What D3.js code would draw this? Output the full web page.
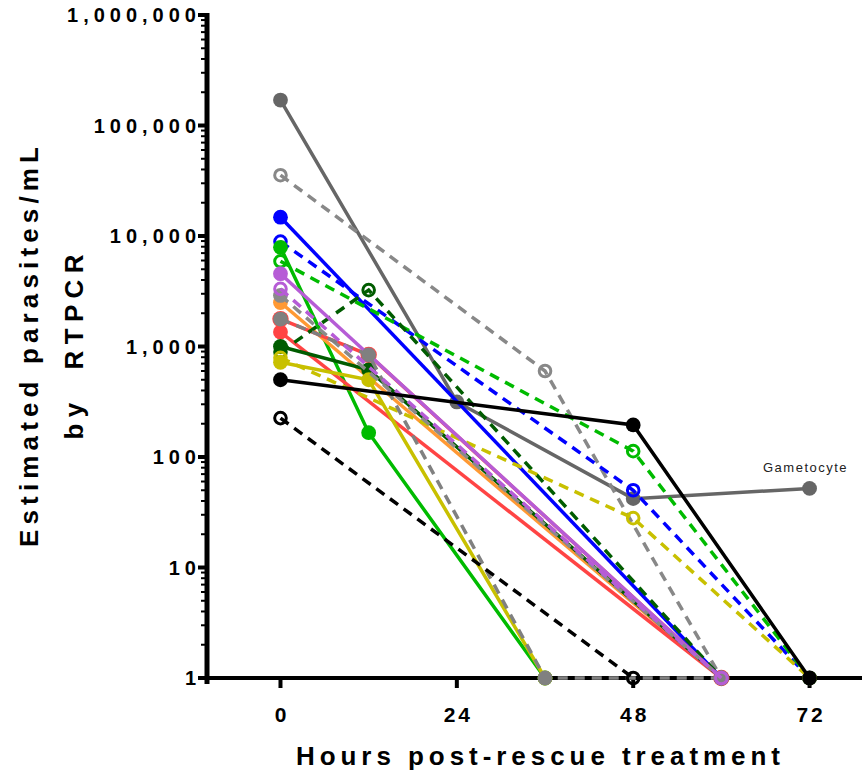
<!DOCTYPE html>
<html>
<head>
<meta charset="utf-8">
<script src="https://cdn.jsdelivr.net/npm/d3@7"></script>
<style>
  body { margin: 0; background: #fff; }
  svg text { font-family: Arial, "Liberation Sans", sans-serif; }
</style>
</head>
<body>
<script>
// tick values
var xTicks = [0, 24, 48, 72];
var yTicks = [1, 10, 100, 1000, 10000, 100000, 1000000];
var yTickLabels = ["1", "10", "100", "1,000", "10,000", "100,000", "1,000,000"];

// one entry per patient/series (hours, parasites/mL)
var seriesHours = [
    [0, 24, 48, 72],   // dark gray, gametocyte
    [0, 36, 60],       // gray dashed open
    [0, 48, 72],       // blue dashed open
    [0, 60],           // blue solid
    [0, 12, 36],       // green solid
    [0, 48, 72],       // green dashed open
    [0, 60],           // orange
    [0, 12, 60],       // red solid (under gray)
    [0, 60],           // red solid
    [0, 12, 60],       // dark green dashed open
    [0, 12, 60],       // dark green solid
    [0, 48, 72],       // yellow dashed open
    [0, 12, 36],       // yellow solid
    [0, 60],           // purple solid
    [0, 60],           // gray dashed filled
    [0, 12, 36, 60],   // gray dashed filled
    [0, 60],           // purple dashed open
    [0, 48, 72],       // black solid
    [0, 48]            // black dashed open
];
var seriesValues = [
    [170000, 315, 42, 52],
    [35500, 600, 1],
    [8900, 50, 1],
    [14800, 1],
    [7900, 166, 1],
    [5900, 113, 1],
    [2500, 1],
    [1770, 840, 1],
    [1350, 1],
    [890, 3240, 1],
    [1000, 615, 1],
    [790, 28, 1],
    [720, 500, 1],
    [4560, 1],
    [2900, 1],
    [1770, 840, 1, 1],
    [3320, 1],
    [500, 195, 1],
    [225, 1]
];
// styles kept apart from the data
var seriesColors = ["#666666", "#888888", "#0000ff", "#0000ff", "#00bb00", "#00bb00",
    "#ff9933", "#ff4444", "#ff4444", "#005c00", "#005c00", "#c8c000", "#c8c000",
    "#b65cd6", "#8a8a8a", "#808080", "#b65cd6", "#000000", "#000000"];
var seriesDashed = [false, true, true, false, false, true, false, false, false, true,
    false, true, false, false, true, true, true, false, true];
var seriesOpen = [false, true, true, false, false, true, false, false, false, true,
    false, true, false, false, false, false, true, false, true];
var seriesBig = 7; // red marker drawn under the gray one

var width = 864, height = 773;

var svg = d3.select("body").append("svg")
    .attr("width", width)
    .attr("height", height);

var x = d3.scaleLinear().domain([-10, 79]).range([207, 861]);
var y = d3.scaleLog().domain([1, 1000000]).range([678, 15]);

// minor ticks on the log axis
var minorTicks = [];
for (var e = 0; e < 6; e++) {
    for (var m = 2; m < 10; m++) minorTicks.push(m * Math.pow(10, e));
}

var yAxisG = svg.append("g");
yAxisG.selectAll("line.minor")
    .data(minorTicks)
    .enter().append("line")
    .attr("x1", 201).attr("x2", 207)
    .attr("y1", function(d) { return y(d); })
    .attr("y2", function(d) { return y(d); })
    .attr("stroke", "#000").attr("stroke-width", 2);
yAxisG.selectAll("line.major")
    .data(yTicks)
    .enter().append("line")
    .attr("x1", 198).attr("x2", 207)
    .attr("y1", function(d) { return y(d); })
    .attr("y2", function(d) { return y(d); })
    .attr("stroke", "#000").attr("stroke-width", 4);
yAxisG.append("line")
    .attr("x1", 207).attr("x2", 207)
    .attr("y1", y(1000000) - 2).attr("y2", 684)
    .attr("stroke", "#000").attr("stroke-width", 5);
yAxisG.selectAll("text")
    .data(yTicks)
    .enter().append("text")
    .attr("x", 201)
    .attr("y", function(d) { return y(d); })
    .attr("dy", "0.36em")
    .attr("text-anchor", "end")
    .style("font-size", "20px")
    .style("font-weight", "bold")
    .style("letter-spacing", "5px")
    .text(function(d, i) { return yTickLabels[i]; });

var xAxisG = svg.append("g");
xAxisG.append("line")
    .attr("x1", 205).attr("x2", 862)
    .attr("y1", 678).attr("y2", 678)
    .attr("stroke", "#000").attr("stroke-width", 4);
xAxisG.selectAll("line.tick")
    .data(xTicks)
    .enter().append("line")
    .attr("x1", function(d) { return x(d); })
    .attr("x2", function(d) { return x(d); })
    .attr("y1", 678).attr("y2", 688)
    .attr("stroke", "#000").attr("stroke-width", 4);
xAxisG.selectAll("text")
    .data(xTicks)
    .enter().append("text")
    .attr("x", function(d) { return x(d) + 1.5; })
    .attr("y", 722)
    .attr("text-anchor", "middle")
    .style("font-size", "21px")
    .style("font-weight", "bold")
    .style("letter-spacing", "3px")
    .text(function(d) { return d; });

// axis titles
svg.append("text")
    .attr("x", 538).attr("y", 765)
    .attr("text-anchor", "middle")
    .attr("textLength", 484)
    .attr("lengthAdjust", "spacing")
    .style("font-size", "26px")
    .style("font-weight", "bold")
    .text("Hours post-rescue treatment");

svg.append("text")
    .attr("transform", "translate(38,347) rotate(-90)")
    .attr("text-anchor", "middle")
    .attr("textLength", 400)
    .attr("lengthAdjust", "spacing")
    .style("font-size", "26px")
    .style("font-weight", "bold")
    .text("Estimated parasites/mL");

svg.append("text")
    .attr("transform", "translate(83,347) rotate(-90)")
    .attr("text-anchor", "middle")
    .attr("textLength", 185)
    .attr("lengthAdjust", "spacing")
    .style("font-size", "26px")
    .style("font-weight", "bold")
    .style("white-space", "pre")
    .text("by  RTPCR");

// series
var line = d3.line()
    .x(function(d) { return x(d[0]); })
    .y(function(d) { return y(d[1]); });

var plot = svg.append("g");
seriesHours.forEach(function(hours, i) {
    var pts = hours.map(function(h, j) { return [h, seriesValues[i][j]]; });
    var g = plot.append("g");
    g.append("path")
        .datum(pts)
        .attr("d", line)
        .attr("fill", "none")
        .attr("stroke", seriesColors[i])
        .attr("stroke-width", 3.5)
        .attr("stroke-dasharray", seriesDashed[i] ? "10,7" : null);
    g.selectAll("circle")
        .data(pts)
        .enter().append("circle")
        .attr("cx", function(d) { return x(d[0]); })
        .attr("cy", function(d) { return y(d[1]); })
        .attr("r", seriesOpen[i] ? 5.8 : (i === seriesBig ? 8.2 : 7.4))
        .attr("fill", seriesOpen[i] ? "none" : seriesColors[i])
        .attr("stroke", seriesOpen[i] ? seriesColors[i] : "none")
        .attr("stroke-width", 3);
});

// gametocyte annotation
svg.append("text")
    .attr("x", x(72) - 4).attr("y", 472)
    .attr("text-anchor", "middle")
    .style("font-size", "13px")
    .style("letter-spacing", "1.5px")
    .style("fill", "#222")
    .text("Gametocyte");
</script>
</body>
</html>
